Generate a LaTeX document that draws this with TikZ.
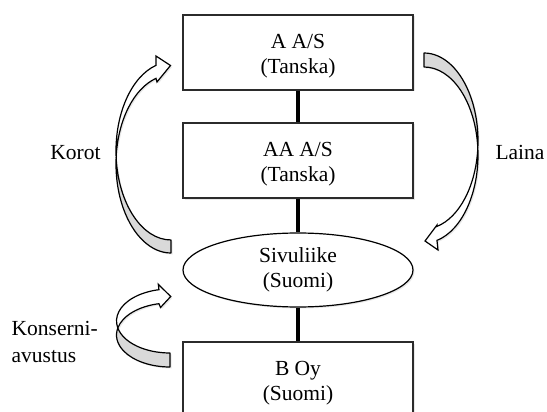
\documentclass[tikz,border=0pt]{standalone}
\usepackage{fontspec}
\setmainfont{Liberation Serif}
\usetikzlibrary{shapes.geometric,shadows}
\definecolor{ribbongray}{HTML}{D9D9D9}
\definecolor{edgegray}{HTML}{2B2B2B}
% pushes a two-line label a little lower inside its box
\newcommand{\lift}{\rule{0pt}{21.5pt}}
\begin{document}
\begin{tikzpicture}[x=1pt,y=-1pt,
  every node/.style={font=\fontsize{21.5}{25}\selectfont, inner sep=0pt},
  softshadow/.style={drop shadow={opacity=0.18, shadow xshift=1.5pt, shadow yshift=-1.5pt}},
  entity/.style={draw=edgegray, line width=1.3pt, fill=white,
    minimum width=230pt, minimum height=75pt, align=center, softshadow},
  branch/.style={ellipse, draw=black, line width=1.2pt, fill=white,
    minimum width=230pt, minimum height=74pt, align=center, softshadow},
  link/.style={line width=4pt, black},
  ribbonback/.style={draw=black, line width=1.2pt, fill=ribbongray, line join=round, softshadow},
  ribbonfront/.style={draw=black, line width=1.2pt, fill=white, line join=miter, softshadow}
]
\clip (0,0) rectangle (547,412);
\fill[white] (0,0) rectangle (547,412);

% company chain
\node[entity] (aas)  at (298,52.5)  {\lift A A/S\\(Tanska)};
\node[entity] (aaas) at (298,160.5) {\lift AA A/S\\(Tanska)};
\node[branch] (siv)  at (298,270)   {Sivuliike\\(Suomi)};
\node[entity] (boy)  at (298,379.5) {\lift B Oy\\(Suomi)};

\draw[link] (aas.south)  -- (aaas.north);
\draw[link] (aaas.south) -- (siv.north);
\draw[link] (siv.south)  -- (boy.north);

% Korot: ribbon arrow from the branch up to the parent
\draw[ribbonback] (171,253)
  arc[start angle=90, end angle=184.2, x radius=55, y radius=89]
  arc[start angle=175.8, end angle=90, x radius=55, y radius=89] -- cycle;
\draw[ribbonfront] (116.15,157.5)
  arc[start angle=175.8, end angle=254.2, x radius=55, y radius=89]
  -- (156,56) -- (170.5,65.5) -- (157,82) -- (156.0,78.36)
  arc[start angle=254.2, end angle=184.2, x radius=55, y radius=89] -- cycle;

% Laina: ribbon arrow from the parent down to the branch
\draw[ribbonback] (424,53)
  arc[start angle=-90, end angle=4.56, x radius=54, y radius=88]
  arc[start angle=-4.56, end angle=-90, x radius=54, y radius=88] -- cycle;
\draw[ribbonfront] (477.83,148)
  arc[start angle=-4.56, end angle=76.1, x radius=54, y radius=88]
  -- (438,250) -- (425,241) -- (437,225) -- (436.97,226.42)
  arc[start angle=76.1, end angle=4.56, x radius=54, y radius=88] -- cycle;

% Konserniavustus: ribbon arrow from B Oy up to the branch
\draw[ribbonback] (170,367)
  arc[start angle=90, end angle=192.64, x radius=53.5, y radius=32]
  arc[start angle=167.36, end angle=90, x radius=53.5, y radius=32] -- cycle;
\draw[ribbonfront] (117.8,328)
  arc[start angle=167.36, end angle=258.1, x radius=53.5, y radius=32]
  -- (158.3,284.3) -- (170.7,296.5) -- (160.5,307.5) -- (158.97,303.69)
  arc[start angle=258.1, end angle=192.64, x radius=53.5, y radius=32] -- cycle;

% flow labels
\node[anchor=base] (korot) at (75.5,160) {Korot};
\node[anchor=base] (laina) at (520,160) {Laina};
\node[anchor=north west, align=left, font=\fontsize{21.5}{27}\selectfont] (kons) at (11.5,321) {Konserni-\\avustus};
\end{tikzpicture}
\end{document}
